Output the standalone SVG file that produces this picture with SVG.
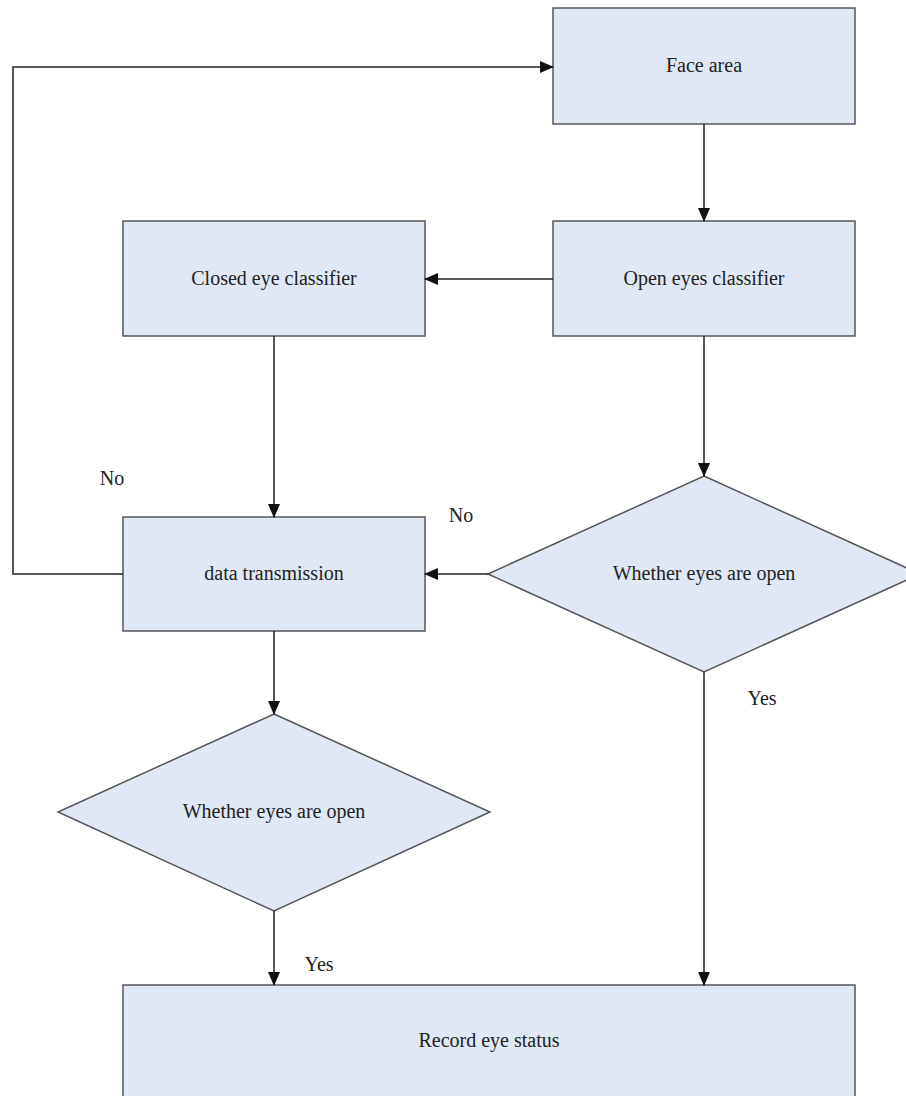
<svg xmlns="http://www.w3.org/2000/svg" width="906" height="1096" viewBox="0 0 906 1096">
<style>
.box{fill:#e0e7f5;stroke:#555;stroke-width:1.5}
.t{font-family:"Liberation Serif","Times New Roman",serif;font-size:20px;fill:#222;text-anchor:middle}
.c{fill:none;stroke:#222;stroke-width:1.5}
</style>
<defs>
<marker id="ah" markerUnits="userSpaceOnUse" markerWidth="14" markerHeight="12" viewBox="0 0 14 12" refX="13" refY="6" orient="auto">
<path d="M0,0 L14,6 L0,12 Z" fill="#111"/>
</marker>
</defs>
<rect width="906" height="1096" fill="#fff"/>
<g id="face-area"><rect class="box" x="553" y="8" width="302" height="116"/><text class="t" x="704" y="72">Face area</text></g>
<g id="open-eyes-classifier"><rect class="box" x="553" y="221" width="302" height="115"/><text class="t" x="704" y="285">Open eyes classifier</text></g>
<g id="closed-eye-classifier"><rect class="box" x="123" y="221" width="302" height="115"/><text class="t" x="274" y="285">Closed eye classifier</text></g>
<g id="data-transmission"><rect class="box" x="123" y="517" width="302" height="114"/><text class="t" x="274" y="580">data transmission</text></g>
<g id="decision-right"><polygon class="box" points="704,476 920,574 704,672 488,574"/><text class="t" x="704" y="580">Whether eyes are open</text></g>
<g id="decision-left"><polygon class="box" points="274,714 490,812 274,911 58,812"/><text class="t" x="274" y="818">Whether eyes are open</text></g>
<g id="record-eye-status"><rect class="box" x="123" y="985" width="732" height="130"/><text class="t" x="489" y="1047">Record eye status</text></g>
<g id="connectors">
<path class="c" d="M704,124 V221" marker-end="url(#ah)"/>
<path class="c" d="M553,279 H425" marker-end="url(#ah)"/>
<path class="c" d="M274,336 V517" marker-end="url(#ah)"/>
<path class="c" d="M704,336 V476" marker-end="url(#ah)"/>
<path class="c" d="M488,574 H425" marker-end="url(#ah)"/>
<path class="c" d="M123,574 H13 V67 H553" marker-end="url(#ah)"/>
<path class="c" d="M274,631 V714" marker-end="url(#ah)"/>
<path class="c" d="M274,911 V985" marker-end="url(#ah)"/>
<path class="c" d="M704,672 V985" marker-end="url(#ah)"/>
</g>
<g id="labels">
<text class="t" x="112" y="485">No</text>
<text class="t" x="461" y="522">No</text>
<text class="t" x="762" y="705">Yes</text>
<text class="t" x="319" y="971">Yes</text>
</g>
</svg>
